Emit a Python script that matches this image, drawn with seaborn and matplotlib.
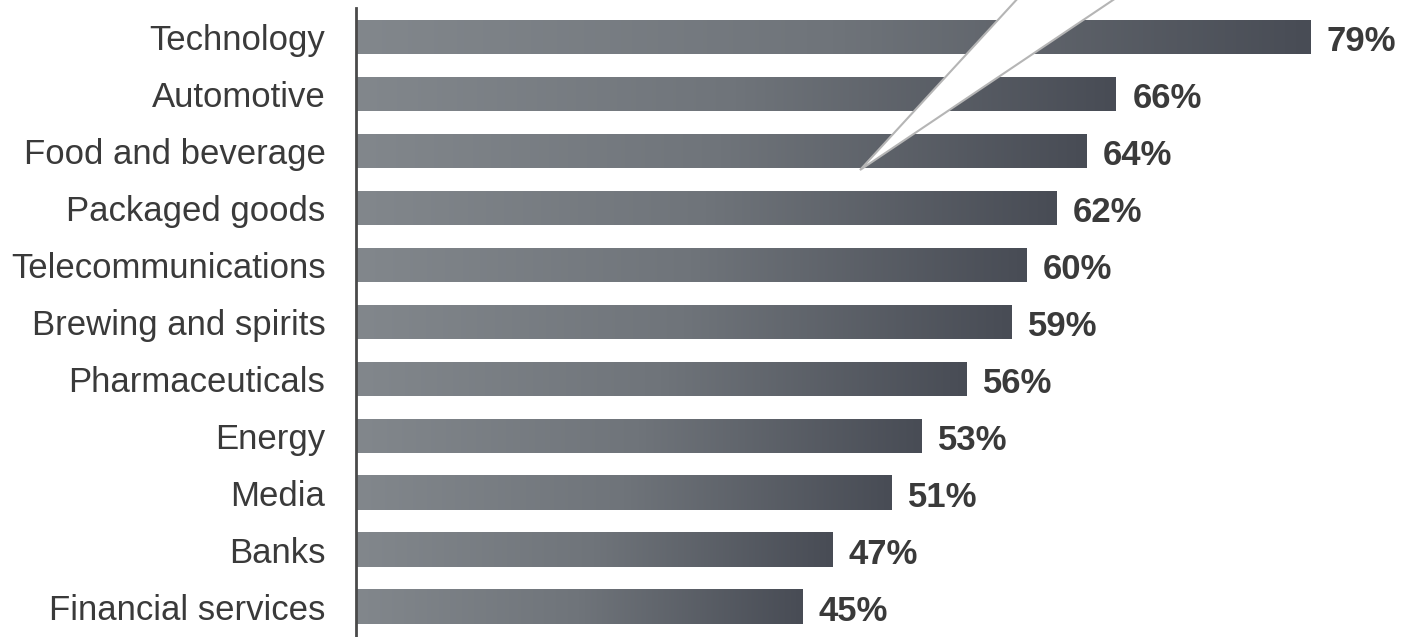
import numpy as np
import pandas as pd
import matplotlib.pyplot as plt
from matplotlib.colors import LinearSegmentedColormap
from matplotlib.patches import Polygon
import seaborn as sns

# ── DATA ───────────────────────────────────────────────────
sectors = ["Technology", "Automotive", "Food and beverage", "Packaged goods",
           "Telecommunications", "Brewing and spirits", "Pharmaceuticals",
           "Energy", "Media", "Banks", "Financial services"]
shares = [79, 66, 64, 62, 60, 59, 56, 53, 51, 47, 45]

df = pd.DataFrame({"sector": sectors, "share": shares})

# ── COLORS ─────────────────────────────────────────────────
TEXT_DARK = "#3a3a3a"
BAR_LIGHT = "#82878c"
BAR_DARK = "#484c55"
grad_cmap = LinearSegmentedColormap.from_list("bar_grad", [BAR_LIGHT, "#6f747a", BAR_DARK])

sns.set_style("white")
plt.rcParams["font.family"] = ["Liberation Sans", "DejaVu Sans"]

fig = plt.figure(figsize=(14.14, 6.37), dpi=100)
ax = fig.add_axes([356 / 1414, 0, 1 - 356 / 1414, 629 / 637])

sns.barplot(data=df, x="share", y="sector", orient="h", color=BAR_DARK,
            width=0.61, ax=ax)

XLIM = (15.13, 85.95)
YLIM = (10.53, -0.51)
ax.set_xlim(*XLIM)
ax.set_ylim(*YLIM)

# gradient fill for each bar, light on the left, dark at the bar end
gradient = np.linspace(0, 1, 256).reshape(1, -1)
for patch in ax.patches:
    x0, y0 = patch.get_x(), patch.get_y()
    w, h = patch.get_width(), patch.get_height()
    patch.set_facecolor("none")
    patch.set_edgecolor("none")
    img = ax.imshow(gradient, cmap=grad_cmap, aspect="auto",
                    extent=[XLIM[0], x0 + w, y0 + h, y0], zorder=2)
    img.set_clip_path(patch)

ax.set_xlim(*XLIM)
ax.set_ylim(*YLIM)

# value labels
for i, v in enumerate(shares):
    ax.text(v + 1.1, i + 0.08, f"{v}%", va="center", ha="left",
            fontsize=25, fontweight="bold", color=TEXT_DARK, zorder=5)

# axis styling
ax.set_xlabel("")
ax.set_ylabel("")
ax.set_xticks([])
ax.tick_params(axis="y", length=0, pad=22, labelsize=25, labelcolor=TEXT_DARK)
for side in ["top", "right", "bottom"]:
    ax.spines[side].set_visible(False)
ax.spines["left"].set_color("#4a4a4a")
ax.spines["left"].set_linewidth(2)

# white callout pointer coming in from the top edge
callout = Polygon([(860 / 1414, 1 - 170 / 637), (1028 / 1414, 1.02),
                   (1132 / 1414, 1.02)], closed=True, transform=fig.transFigure,
                  facecolor="white", edgecolor="#b5b5b5", linewidth=1.5,
                  zorder=10)
fig.patches.append(callout)

fig.savefig("out.png", dpi=100, facecolor="white")
